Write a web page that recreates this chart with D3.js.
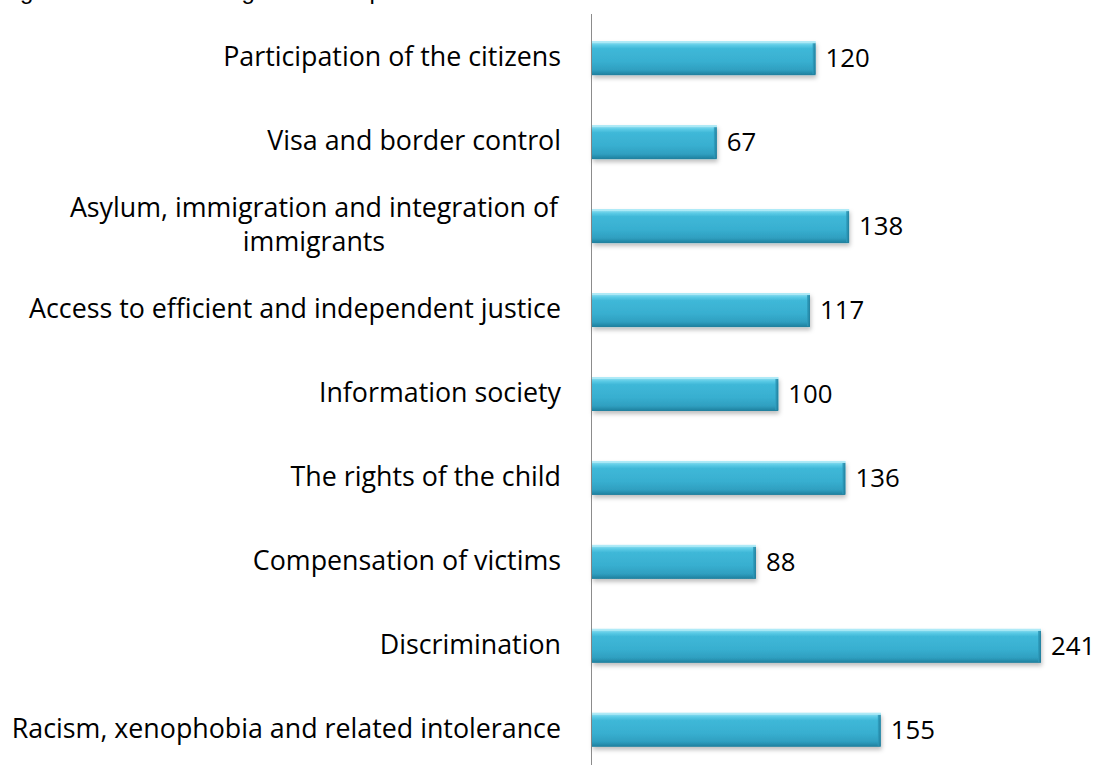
<!DOCTYPE html>
<html>
<head>
<meta charset="utf-8">
<script src="https://cdn.jsdelivr.net/npm/d3@7"></script>
<style>
  html, body { margin: 0; padding: 0; background: #fff; }
  svg { display: block; }
</style>
</head>
<body>
<svg id="chart" width="1098" height="765"></svg>
<script>
const categories = [
  ["Participation of the citizens"],
  ["Visa and border control"],
  ["Asylum, immigration and integration of", "immigrants"],
  ["Access to efficient and independent justice"],
  ["Information society"],
  ["The rights of the child"],
  ["Compensation of victims"],
  ["Discrimination"],
  ["Racism, xenophobia and related intolerance"]
];
const values = [120, 67, 138, 117, 100, 136, 88, 241, 155];
const titleText = "Figure 4: Number of organisations per thematic area";

const svg = d3.select("#chart");
const W = 1098, H = 765;
const x0 = 592;
const FONT = "'Open Sans', 'Noto Sans', sans-serif";
const FS = 26.8;

const keys = categories.map((c, i) => i);
const y = d3.scaleBand().domain(keys).range([16, 772]).paddingInner(0.595).paddingOuter(0.3);
const x = d3.scaleLinear().domain([0, 241]).range([x0, 1041]);

// defs
const defs = svg.append("defs");
const g1 = defs.append("linearGradient").attr("id", "barGrad").attr("x1", 0).attr("y1", 0).attr("x2", 0).attr("y2", 1);
[[0, "#9fe4f4"], [0.12, "#5ccbe6"], [0.22, "#3fb8d8"], [0.6, "#38afd0"], [0.85, "#2f9fc0"], [1, "#1f7e9c"]]
  .forEach(([o, c]) => g1.append("stop").attr("offset", o).attr("stop-color", c));
const g2 = defs.append("linearGradient").attr("id", "endGrad").attr("x1", 0).attr("y1", 0).attr("x2", 1).attr("y2", 0);
[[0, "#2f9fc0"], [1, "#1c7390"]].forEach(([o, c]) => g2.append("stop").attr("offset", o).attr("stop-color", c));
const f = defs.append("filter").attr("id", "shadow").attr("x", "-5%").attr("y", "-20%").attr("width", "115%").attr("height", "160%");
f.append("feDropShadow").attr("dx", 1).attr("dy", 3).attr("stdDeviation", 2).attr("flood-color", "#000").attr("flood-opacity", 0.25);

// title (cut off at top edge, as in the reference)
svg.append("text").attr("x", 0).attr("y", -1)
  .attr("font-family", "Arial, 'Liberation Sans', sans-serif").attr("font-size", 24)
  .attr("fill", "#000").text(titleText);

// axis line
svg.append("line").attr("x1", x0 - 0.5).attr("x2", x0 - 0.5).attr("y1", 14).attr("y2", H)
  .attr("stroke", "#8c8c8c").attr("stroke-width", 1);

// bars
const bars = svg.append("g").selectAll("g").data(values).join("g");
bars.append("rect")
  .attr("x", x0).attr("y", (d, i) => y(i))
  .attr("width", d => x(d) - x0).attr("height", y.bandwidth())
  .attr("fill", "url(#barGrad)").attr("filter", "url(#shadow)");
bars.append("rect")
  .attr("x", d => x(d) - 3).attr("y", (d, i) => y(i) + 2)
  .attr("width", 3).attr("height", y.bandwidth() - 3)
  .attr("fill", "url(#endGrad)").attr("opacity", 0.8);
bars.append("rect")
  .attr("x", x0).attr("y", (d, i) => y(i))
  .attr("width", d => x(d) - x0).attr("height", 2)
  .attr("fill", "#b5ecf8").attr("opacity", 0.8);

// value labels
bars.append("text")
  .attr("x", d => x(d) + 10).attr("y", (d, i) => y(i) + y.bandwidth() / 2)
  .attr("dy", "0.34em")
  .attr("font-family", FONT).attr("font-size", FS - 1).attr("fill", "#000")
  .text(d => d);

// category labels
const labels = svg.append("g").selectAll("text").data(categories).join("text")
  .attr("font-family", FONT).attr("font-size", FS).attr("fill", "#000");
labels.each(function(lines, i) {
  const t = d3.select(this);
  const cy = y(i) + y.bandwidth() / 2;
  if (lines.length === 1) {
    t.attr("text-anchor", "end").attr("x", 561).attr("y", cy).attr("dy", "0.3em").text(lines[0]);
  } else {
    t.attr("text-anchor", "middle");
    lines.forEach((ln, k) => {
      t.append("tspan").attr("x", 314).attr("y", cy + (k - (lines.length - 1) / 2) * 34).attr("dy", "0.3em").text(ln);
    });
  }
});
</script>
</body>
</html>
